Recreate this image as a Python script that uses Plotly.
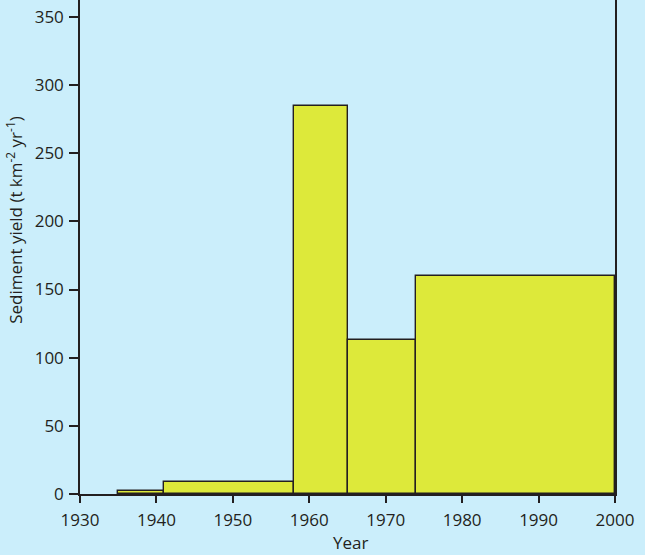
import plotly.graph_objects as go

period_start = [1935, 1941, 1958, 1965, 1974]
period_end = [1941, 1958, 1965, 1974, 2000]
sediment_yield = [2, 9, 285, 113, 160]

x_ticks = [1930, 1940, 1950, 1960, 1970, 1980, 1990, 2000]
y_ticks = [0, 50, 100, 150, 200, 250, 300, 350]

mid = [(a + b) / 2 for a, b in zip(period_start, period_end)]
width = [b - a for a, b in zip(period_start, period_end)]

bg = "#cbeefb"
ink = "#231f20"

fig = go.Figure(go.Bar(
    x=mid, y=sediment_yield, width=width,
    marker=dict(color="#dde93a", line=dict(color=ink, width=1.4)),
    hoverinfo="skip",
))

font = dict(family="Open Sans, Noto Sans, sans-serif", size=17, color=ink)

fig.update_layout(
    width=645, height=555,
    margin=dict(l=80, r=30, t=0, b=61),
    paper_bgcolor=bg, plot_bgcolor=bg,
    font=font,
    showlegend=False,
    bargap=0,
    xaxis=dict(
        range=[1930, 2000], tickvals=x_ticks, ticktext=[str(v) for v in x_ticks],
        showgrid=False, zeroline=False, showline=True, linecolor=ink, linewidth=1.5,
        ticks="outside", ticklen=7, tickwidth=1.5, tickcolor=ink,
        tickfont=dict(size=17), ticklabelstandoff=3,
    ),
    yaxis=dict(
        range=[0, 362.4], tickvals=y_ticks,
        showgrid=False, zeroline=False, showline=True, mirror=True,
        linecolor=ink, linewidth=1.5,
        ticks="outside", ticklen=9, tickwidth=1.5, tickcolor=ink,
        tickfont=dict(size=17), ticklabelstandoff=2,
    ),
    annotations=[
        dict(text="Year", xref="paper", yref="paper", x=0.505, y=-0.099,
             showarrow=False, xanchor="center", yanchor="middle",
             font=dict(size=17, color=ink)),
        dict(text="Sediment yield (t km<sup>-2</sup> yr<sup>-1</sup>)",
             xref="paper", yref="paper", x=-0.1215, y=0.555, textangle=-90,
             showarrow=False, xanchor="center", yanchor="middle",
             font=dict(size=17, color=ink)),
    ],
)

fig.write_html("out.html")
